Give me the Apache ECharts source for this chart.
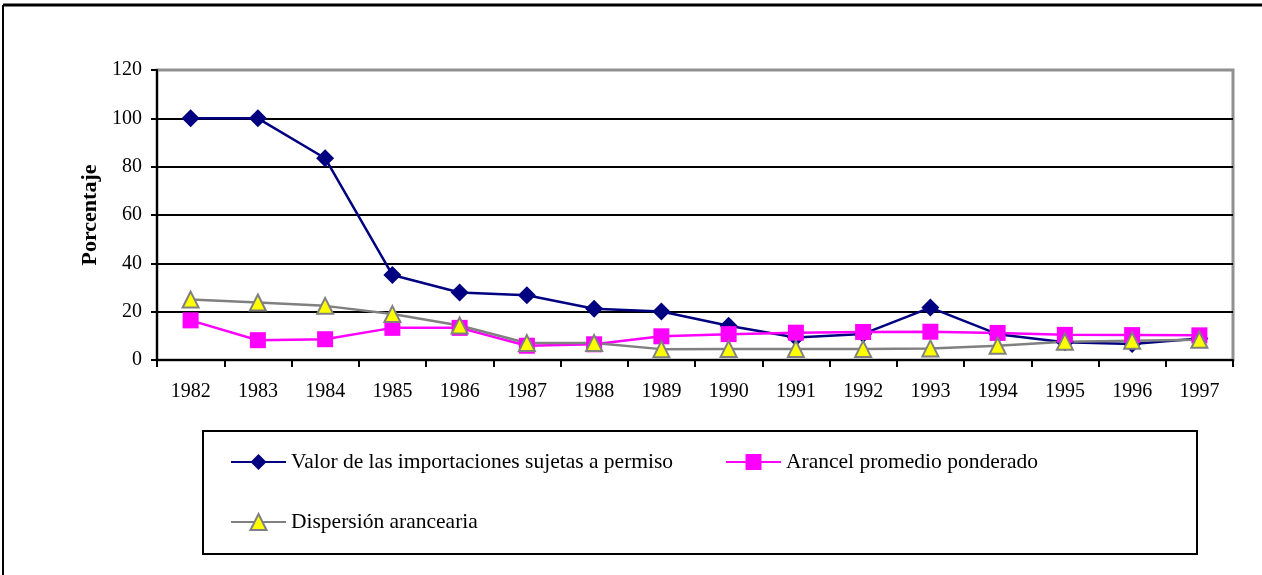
<!DOCTYPE html>
<html>
<head>
<meta charset="utf-8">
<script src="https://cdn.jsdelivr.net/npm/echarts@6/dist/echarts.min.js"></script>
<style>
html,body{margin:0;padding:0;background:#fff;}
#chart{width:1262px;height:575px;}
</style>
</head>
<body>
<div id="chart"></div>
<script>
const years = ['1982','1983','1984','1985','1986','1987','1988','1989','1990','1991','1992','1993','1994','1995','1996','1997'];
const valorImportaciones = [100, 100, 83.5, 35.2, 27.9, 26.8, 21.2, 20.1, 14.2, 9.3, 10.8, 21.7, 10.7, 7.3, 6.6, 8.9];
const arancelPromedio = [16.4, 8.2, 8.6, 13.3, 13.3, 5.9, 6.5, 9.8, 10.7, 11.3, 11.6, 11.7, 11.2, 10.4, 10.3, 10.2];
const dispersionArancelaria = [25.0, 23.8, 22.4, 19.0, 14.3, 7.0, 7.0, 4.5, 4.6, 4.6, 4.6, 4.8, 5.9, 7.6, 8.0, 8.4];
const seriesNames = ['Valor de las importaciones sujetas a permiso', 'Arancel promedio ponderado', 'Dispersión arancearia'];
const yAxisName = 'Porcentaje';

const FONT = "'Liberation Serif', 'Times New Roman', serif";
const chart = echarts.init(document.getElementById('chart'), null, {renderer: 'canvas'});
const legendText = {fontFamily: FONT, fontSize: 21.5, color: '#000'};
chart.setOption({
  animation: false,
  backgroundColor: '#fff',
  grid: {left: 157, right: 29, top: 70, bottom: 215, show: true, borderColor: '#909090', borderWidth: 3, backgroundColor: 'transparent'},
  xAxis: {
    type: 'category', data: years, boundaryGap: true,
    axisLine: {lineStyle: {color: '#000', width: 2}},
    axisTick: {show: true, length: 7, inside: false, lineStyle: {color: '#000', width: 2}},
    axisLabel: {fontFamily: FONT, fontSize: 20, color: '#000', margin: 22},
    splitLine: {show: false}
  },
  yAxis: {
    type: 'value', min: 0, max: 120, interval: 20,
    name: yAxisName, nameLocation: 'middle', nameGap: 55,
    nameTextStyle: {fontFamily: FONT, fontSize: 22, fontWeight: 'bold', color: '#000'},
    axisLine: {show: true, lineStyle: {color: '#000', width: 2}},
    axisTick: {show: true, length: 6, lineStyle: {color: '#000', width: 2}},
    axisLabel: {fontFamily: FONT, fontSize: 20, color: '#000', margin: 15},
    splitLine: {show: true, lineStyle: {color: ['#000','#000','#000','#000','#000','#000','rgba(0,0,0,0)'], width: 2}}
  },
  legend: [
    {data: [seriesNames[0]], left: 230, top: 451, padding: 0, itemWidth: 55, itemHeight: 20, itemGap: 0, textStyle: legendText},
    {data: [seriesNames[1]], left: 725, top: 451, padding: 0, itemWidth: 55, itemHeight: 20, itemGap: 0, textStyle: legendText},
    {data: [seriesNames[2]], left: 230, top: 511, padding: 0, itemWidth: 55, itemHeight: 20, itemGap: 0, textStyle: legendText}
  ],
  graphic: [
    {type: 'rect', shape: {x: 203, y: 431, width: 994, height: 123}, style: {fill: 'none', stroke: '#000', lineWidth: 2}, z: -1},
    {type: 'line', shape: {x1: 3, y1: 5, x2: 1262, y2: 5}, style: {stroke: '#000', lineWidth: 3}},
    {type: 'line', shape: {x1: 3, y1: 5, x2: 3, y2: 575}, style: {stroke: '#000', lineWidth: 2}}
  ],
  series: [
    {name: seriesNames[0], type: 'line', data: valorImportaciones, symbol: 'diamond', symbolSize: 18,
     lineStyle: {color: '#000080', width: 2.5}, itemStyle: {color: '#000080', borderWidth: 0}},
    {name: seriesNames[1], type: 'line', data: arancelPromedio, symbol: 'rect', symbolSize: 16,
     lineStyle: {color: '#FF00FF', width: 2.5}, itemStyle: {color: '#FF00FF', borderWidth: 0}},
    {name: seriesNames[2], type: 'line', data: dispersionArancelaria, symbol: 'triangle', symbolSize: 16,
     lineStyle: {color: '#808080', width: 2.5}, itemStyle: {color: '#FFFF00', borderColor: '#808080', borderWidth: 2}}
  ]
});
</script>
</body>
</html>
